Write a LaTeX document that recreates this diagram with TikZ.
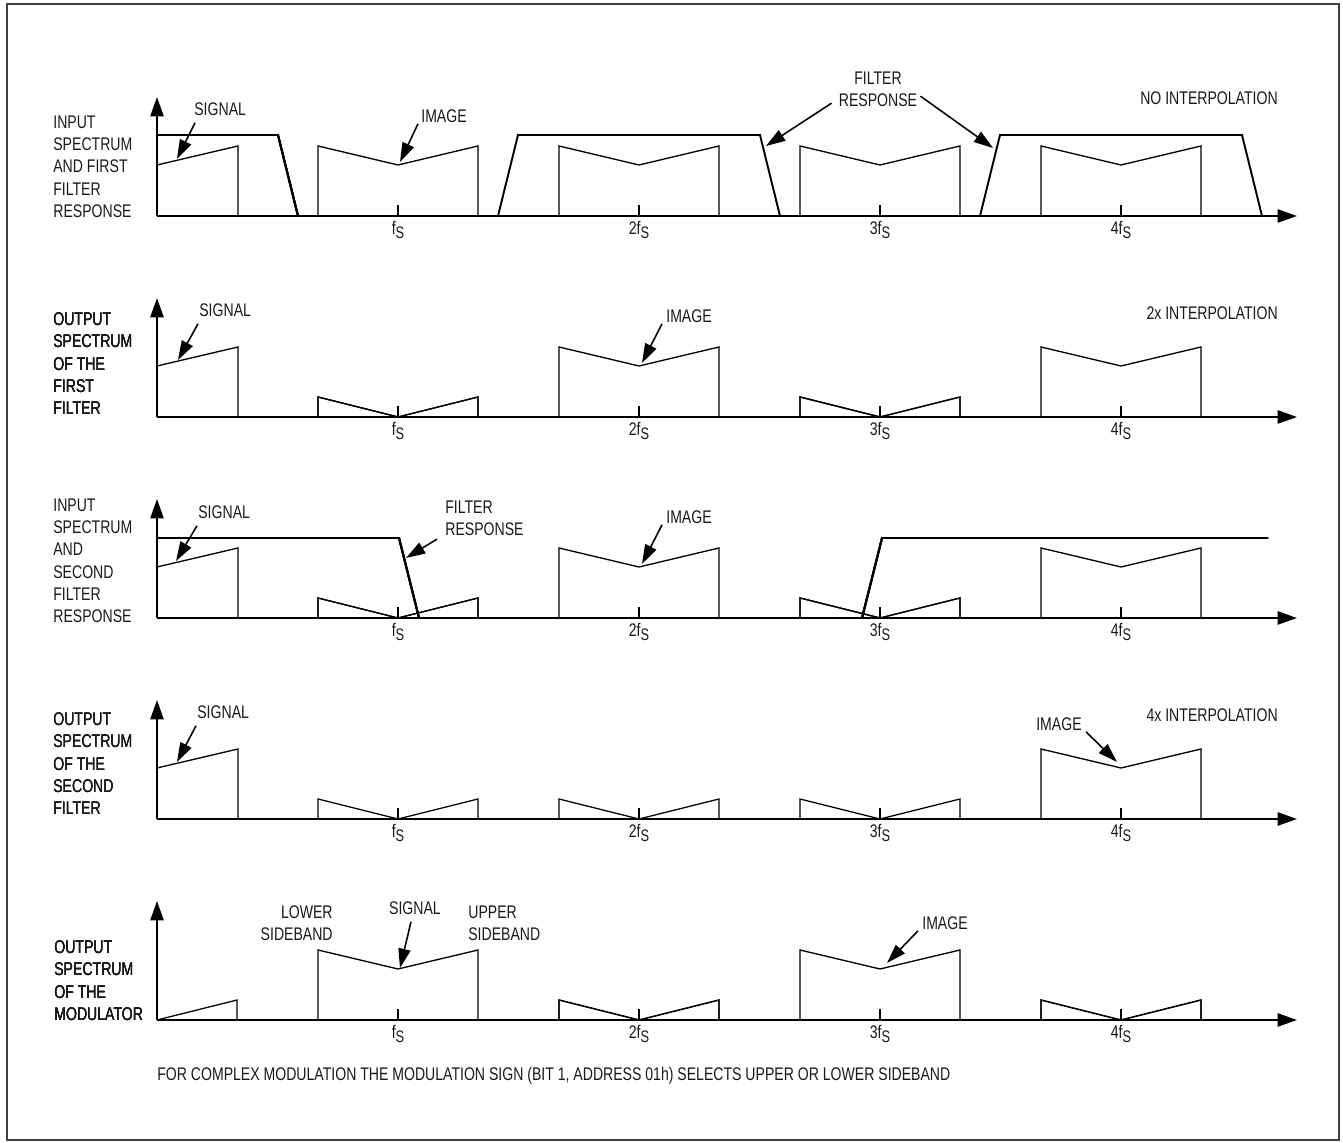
\documentclass[tikz,border=0pt]{standalone}
\usepackage{fontspec}
\setmainfont[FakeStretch=0.77]{Liberation Sans}
\usetikzlibrary{arrows.meta}

% f_S style tick labels
\newcommand{\fsl}[1]{#1f\raisebox{-2.5pt}{\fontsize{9.5}{9}\selectfont S}}
% spectral copies
\newcommand{\bigimg}[1]{\draw[spec] (#1-80,0) -- (#1-80,70) -- (#1,51) -- (#1+80,70) -- (#1+80,0);}
\newcommand{\smallimg}[1]{\draw[spec] (#1-80,0) -- (#1-80,20) -- (#1,0) -- (#1+80,20) -- (#1+80,0);}
% axes with ticks, #1 = prefix of the node names
\newcommand{\spaxes}[1]{%
  \draw[axis] (0,0) -- (1140,0);
  \draw[axis] (0,0) -- (0,119);
  \foreach \k/\t in {1/,2/2,3/3,4/4}{
    \draw[line width=.6pt] (\k*241,0) -- (\k*241,11);
    \node[lbl, anchor=north] (#1t\k) at (\k*241,-5) {\fsl{\t}};
  }}

\tikzset{
  axis/.style={line width=1.1pt, -{Triangle[length=11pt,width=7.5pt]}},
  spec/.style={line width=.75pt},
  filt/.style={line width=1.1pt},
  pointer/.style={line width=.9pt, -{Triangle[length=11pt,width=7pt]}},
  lbl/.style={inner sep=0pt, font=\fontsize{10.4}{12.65}\selectfont, text=black!90},
  frame/.style={line width=1.2pt, draw=black!75},
}

\begin{document}
\begin{tikzpicture}[x=0.02cm, y=0.02cm]
\useasboundingbox (0,0) rectangle (1343,1143);
\draw[frame] (7,3) rectangle (1339,1139);

% no interpolation
\begin{scope}[shift={(157,927)}]
\spaxes{a}
\draw[spec] (0,51) -- (81,70) -- (81,0);
\foreach \cx in {241,482,723,964} \bigimg{\cx}
\draw[filt] (0,81) -- (121,81) -- (141,0);
\foreach \cx in {482,964}
  \draw[filt] (\cx-141,0) -- (\cx-121,81) -- (\cx+121,81) -- (\cx+141,0);
\node[lbl, anchor=north west, align=left] (aname) at (-104,100.5)
  {INPUT\\SPECTRUM\\AND FIRST\\FILTER\\RESPONSE};
\node[lbl, anchor=west] (asig) at (37,107) {SIGNAL};
\coordinate (asigtip) at (20,57);
\draw[pointer] ([shift={(1,-7)}]asig.south west) -- (asigtip);
\node[lbl, anchor=west] (aimg) at (264,100) {IMAGE};
\coordinate (aimgtip) at (243,54);
\draw[pointer] ([shift={(-3,-1)}]aimg.south west) -- (aimgtip);
\node[lbl, anchor=north, align=center] (afilt) at (721,144.5) {FILTER\\RESPONSE};
\coordinate (afilttipa) at (609,70);
\coordinate (afilttipb) at (836,68);
\draw[pointer] ([shift={(-7,4)}]afilt.south west) -- (afilttipa);
\draw[pointer] ([shift={(3,11)}]afilt.south east) -- (afilttipb);
\node[lbl, anchor=east] (amode) at (1121,118) {NO INTERPOLATION};
\end{scope}

% 2x interpolation
\begin{scope}[shift={(157,726)}]
\spaxes{b}
\draw[spec] (0,51) -- (81,70) -- (81,0);
\foreach \cx in {482,964} \bigimg{\cx}
\foreach \cx in {241,723} \smallimg{\cx}
\node[lbl, anchor=north west, align=left] (bname) at (-104,104.5)
  {OUTPUT\\SPECTRUM\\OF THE\\FIRST\\FILTER};
\node[lbl, anchor=west] (bsig) at (42,107) {SIGNAL};
\coordinate (bsigtip) at (21,57);
\draw[pointer] ([shift={(-1,-7)}]bsig.south west) -- (bsigtip);
\node[lbl, anchor=west] (bimg) at (509,101) {IMAGE};
\coordinate (bimgtip) at (485,54);
\draw[pointer] ([shift={(-4,-1)}]bimg.south west) -- (bimgtip);
\node[lbl, anchor=east] (bmode) at (1121,104) {2x INTERPOLATION};
\end{scope}

% input to the second filter
\begin{scope}[shift={(157,525)}]
\spaxes{c}
\draw[spec] (0,51) -- (81,70) -- (81,0);
\foreach \cx in {482,964} \bigimg{\cx}
\foreach \cx in {241,723} \smallimg{\cx}
\draw[filt] (0,80) -- (242,80) -- (262,0) -- (705,0) -- (725,80) -- (1111,80);
\node[lbl, anchor=north west, align=left] (cname) at (-104,119.5)
  {INPUT\\SPECTRUM\\AND\\SECOND\\FILTER\\RESPONSE};
\node[lbl, anchor=west] (csig) at (41,106) {SIGNAL};
\coordinate (csigtip) at (19,57);
\draw[pointer] ([shift={(-1,-7)}]csig.south west) -- (csigtip);
\node[lbl, anchor=north west, align=left] (cfilt) at (288,117.5) {FILTER\\RESPONSE};
\coordinate (cfilttip) at (249,60);
\draw[pointer] ([shift={(-8,-3)}]cfilt.south west) -- (cfilttip);
\node[lbl, anchor=west] (cimg) at (509,101) {IMAGE};
\coordinate (cimgtip) at (485,54);
\draw[pointer] ([shift={(-4,-1)}]cimg.south west) -- (cimgtip);
\end{scope}

% 4x interpolation
\begin{scope}[shift={(157,324)}]
\spaxes{d}
\draw[spec] (0,51) -- (81,70) -- (81,0);
\bigimg{964}
\foreach \cx in {241,482,723} \smallimg{\cx}
\node[lbl, anchor=north west, align=left] (dname) at (-104,106.5)
  {OUTPUT\\SPECTRUM\\OF THE\\SECOND\\FILTER};
\node[lbl, anchor=west] (dsig) at (40,107) {SIGNAL};
\coordinate (dsigtip) at (20,57);
\draw[pointer] ([shift={(-1,-7)}]dsig.south west) -- (dsigtip);
\node[lbl, anchor=east] (dimg) at (925,95) {IMAGE};
\coordinate (dimgtip) at (960,57);
\draw[pointer] ([shift={(4,-1)}]dimg.south east) -- (dimgtip);
\node[lbl, anchor=east] (dmode) at (1121,104) {4x INTERPOLATION};
\end{scope}

% modulator output
\begin{scope}[shift={(157,123)}]
\spaxes{e}
\draw[spec] (0,0) -- (80,20) -- (80,0);
\foreach \cx in {241,723} \bigimg{\cx}
\foreach \cx in {482,964} \smallimg{\cx}
\node[lbl, anchor=north west, align=left] (ename) at (-103,79.5)
  {OUTPUT\\SPECTRUM\\OF THE\\MODULATOR};
\node[lbl, anchor=north east, align=right] (elow) at (176,114.5) {LOWER\\SIDEBAND};
\node[lbl, anchor=north west, align=left] (eup) at (311,114.5) {UPPER\\SIDEBAND};
\node[lbl] (esig) at (258,112) {SIGNAL};
\coordinate (esigtip) at (243,52);
\draw[pointer] ([shift={(-4,-7)}]esig.south) -- (esigtip);
\node[lbl, anchor=west] (eimg) at (765,97) {IMAGE};
\coordinate (eimgtip) at (730,57);
\draw[pointer] ([shift={(-4,-1)}]eimg.south west) -- (eimgtip);
\node[lbl, anchor=base west] (enote) at (0,-60.5)
  {FOR COMPLEX MODULATION THE MODULATION SIGN (BIT 1, ADDRESS 01h) SELECTS UPPER OR LOWER SIDEBAND};
\end{scope}
\end{tikzpicture}
\end{document}
